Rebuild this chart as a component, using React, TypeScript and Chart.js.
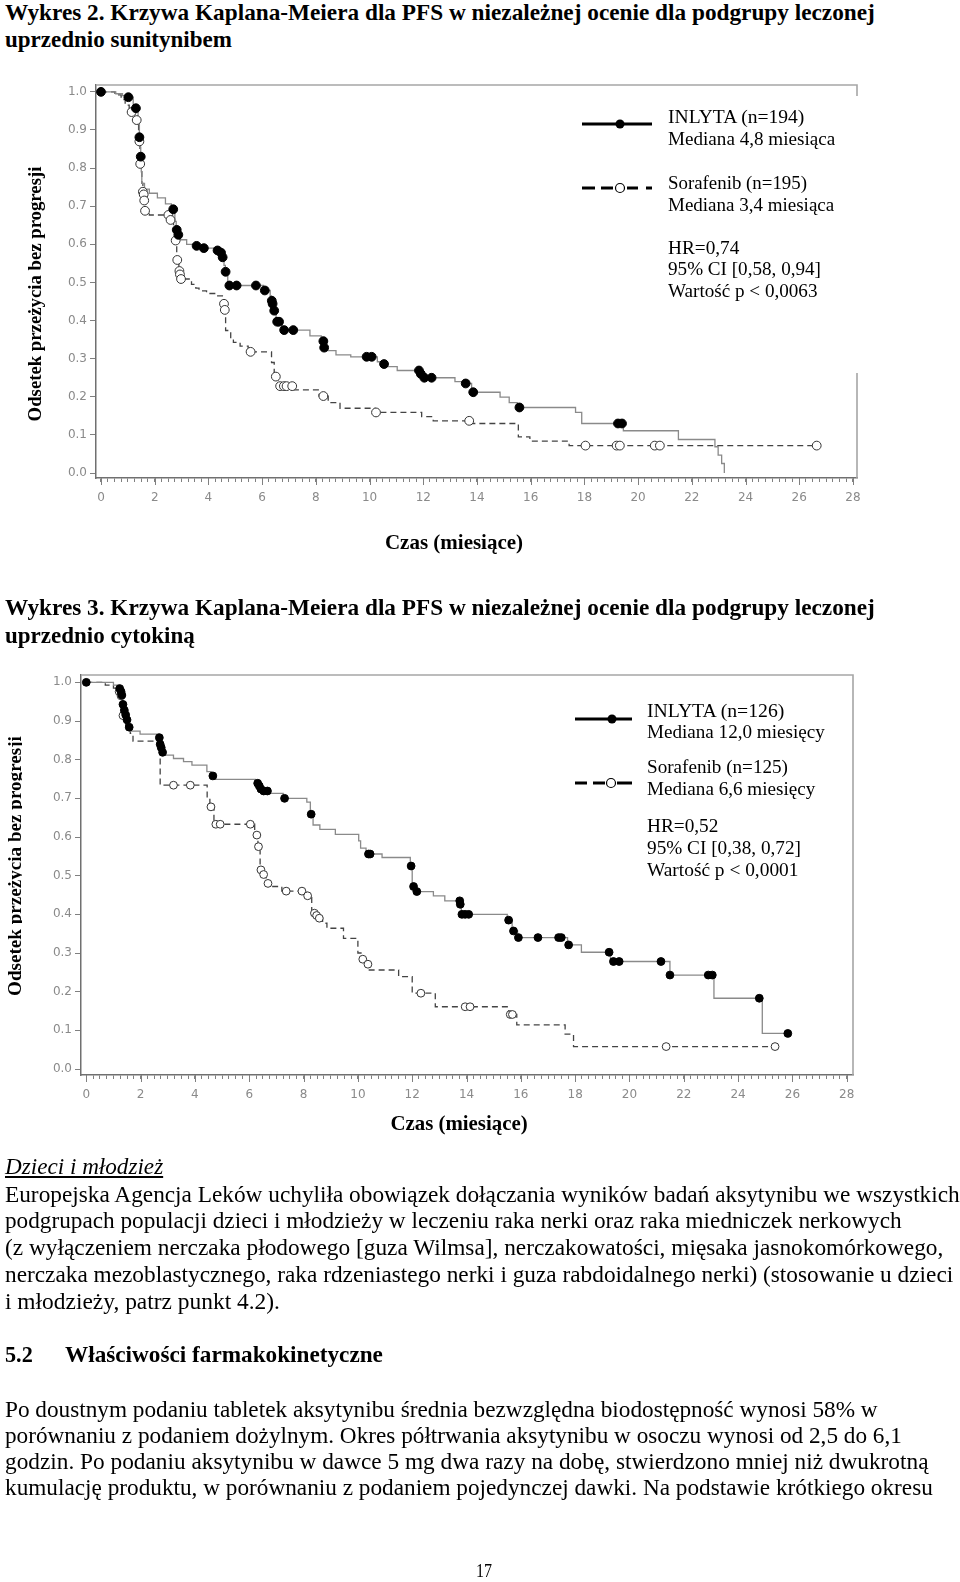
import React, { useEffect, useLayoutEffect, useRef } from 'react';
import { Chart, registerables } from 'chart.js';

Chart.register(...registerables);

// ---------- axis tick labels ----------
const xTickLabels = ['0', '2', '4', '6', '8', '10', '12', '14', '16', '18', '20', '22', '24', '26', '28'];
const yTickLabels = ['0.0', '0.1', '0.2', '0.3', '0.4', '0.5', '0.6', '0.7', '0.8', '0.9', '1.0'];
const xMinorTicks = Array.from({ length: 113 }, (_, i) => i * 0.25);

// ---------- Wykres 2 (sunitynib) ----------
const w2InlytaT = [0, 0.55, 0.8, 1.0, 1.2, 1.3, 1.38, 1.43, 1.46, 1.48, 1.5, 1.52, 1.62, 1.8, 2.1, 2.4, 2.62, 2.75, 2.8, 2.86, 2.95, 3.19, 3.5, 3.75, 4.25, 4.45, 4.52, 4.58, 4.63, 4.72, 6.05, 6.3, 6.35, 6.39, 6.44, 6.52, 6.75, 7.78, 8.2, 8.3, 8.4, 8.75, 9.3, 10.29, 10.45, 10.6, 11.03, 11.88, 12.0, 13.18, 13.5, 13.8, 14.86, 15.2, 15.5, 17.67, 17.9, 19.45, 21.5, 22.86, 22.98, 23.11, 23.21];
const w2InlytaS = [1.0, 0.995, 0.99, 0.986, 0.965, 0.957, 0.92, 0.881, 0.855, 0.83, 0.79, 0.76, 0.745, 0.734, 0.722, 0.706, 0.692, 0.66, 0.638, 0.625, 0.612, 0.6, 0.596, 0.59, 0.584, 0.578, 0.566, 0.545, 0.528, 0.492, 0.479, 0.465, 0.452, 0.444, 0.426, 0.397, 0.375, 0.36, 0.346, 0.329, 0.321, 0.31, 0.305, 0.292, 0.286, 0.279, 0.269, 0.26, 0.25, 0.24, 0.235, 0.212, 0.199, 0.185, 0.172, 0.159, 0.13, 0.111, 0.088, 0.069, 0.047, 0.025, 0.0];
const w2InlytaCensT = [0, 1.02, 1.3, 1.43, 1.48, 2.69, 2.82, 2.88, 3.56, 3.83, 4.34, 4.47, 4.53, 4.64, 4.78, 5.05, 5.77, 6.1, 6.36, 6.39, 6.45, 6.56, 6.63, 6.82, 7.16, 8.28, 8.31, 9.89, 10.08, 10.54, 11.84, 11.91, 12.04, 12.31, 13.58, 13.86, 15.58, 19.25, 19.4];
const w2InlytaCensS = [1.0, 0.986, 0.957, 0.881, 0.83, 0.692, 0.638, 0.625, 0.596, 0.59, 0.584, 0.578, 0.566, 0.528, 0.492, 0.492, 0.492, 0.479, 0.452, 0.444, 0.426, 0.397, 0.397, 0.375, 0.375, 0.346, 0.329, 0.305, 0.305, 0.286, 0.269, 0.26, 0.25, 0.25, 0.235, 0.212, 0.172, 0.13, 0.13];
const w2SoraT = [0, 0.52, 0.75, 0.9, 1.05, 1.14, 1.25, 1.33, 1.4, 1.45, 1.52, 1.56, 1.59, 1.61, 1.64, 1.8, 2.55, 2.7, 2.76, 2.82, 2.9, 2.93, 2.96, 3.37, 3.53, 3.65, 3.93, 4.31, 4.55, 4.6, 4.64, 4.83, 4.93, 5.18, 5.48, 6.35, 6.45, 6.6, 7.2, 8.12, 8.46, 8.9, 10.2, 11.94, 12.37, 13.75, 15.54, 15.97, 17.43, 26.65];
const w2SoraS = [1.0, 0.992, 0.98, 0.965, 0.955, 0.947, 0.935, 0.926, 0.87, 0.811, 0.76, 0.738, 0.731, 0.715, 0.688, 0.677, 0.664, 0.64, 0.61, 0.559, 0.53, 0.521, 0.509, 0.495, 0.485, 0.478, 0.471, 0.465, 0.444, 0.428, 0.374, 0.353, 0.343, 0.333, 0.318, 0.29, 0.253, 0.228, 0.218, 0.202, 0.185, 0.17, 0.159, 0.148, 0.137, 0.13, 0.095, 0.084, 0.072, 0.072];
const w2SoraCensT = [1.14, 1.33, 1.43, 1.46, 1.56, 1.59, 1.61, 1.64, 2.51, 2.59, 2.78, 2.84, 2.92, 2.94, 2.98, 4.58, 4.61, 5.57, 6.51, 6.67, 6.81, 6.91, 7.12, 8.28, 10.24, 13.71, 18.04, 19.2, 19.32, 20.62, 20.81, 26.65];
const w2SoraCensS = [0.947, 0.926, 0.87, 0.811, 0.738, 0.731, 0.715, 0.688, 0.677, 0.664, 0.61, 0.559, 0.53, 0.521, 0.509, 0.444, 0.428, 0.318, 0.253, 0.228, 0.228, 0.228, 0.228, 0.202, 0.159, 0.137, 0.072, 0.072, 0.072, 0.072, 0.072, 0.072];

// ---------- Wykres 3 (cytokina) ----------
const w3InlytaT = [0, 1.0, 1.18, 1.26, 1.3, 1.34, 1.38, 1.43, 1.48, 1.55, 1.62, 1.98, 2.66, 2.7, 2.74, 2.78, 2.85, 3.21, 3.58, 3.89, 4.44, 4.6, 4.72, 6.22, 6.35, 6.4, 6.48, 6.7, 7.25, 8.12, 8.25, 8.35, 8.6, 9.17, 10.03, 10.1, 10.3, 10.89, 11.93, 12.0, 12.12, 12.78, 13.2, 13.76, 13.81, 15.5, 15.68, 15.88, 17.72, 18.23, 19.3, 21.49, 23.11, 24.89, 25.83];
const w3InlytaS = [1.0, 0.993, 0.984, 0.976, 0.967, 0.943, 0.928, 0.916, 0.903, 0.884, 0.874, 0.866, 0.857, 0.84, 0.831, 0.819, 0.812, 0.803, 0.795, 0.786, 0.769, 0.758, 0.749, 0.739, 0.732, 0.724, 0.719, 0.713, 0.7, 0.69, 0.659, 0.631, 0.62, 0.607, 0.59, 0.571, 0.556, 0.547, 0.525, 0.472, 0.459, 0.448, 0.435, 0.426, 0.4, 0.385, 0.357, 0.34, 0.321, 0.302, 0.278, 0.243, 0.183, 0.092, 0.092];
const w3InlytaCensT = [0, 1.23, 1.28, 1.31, 1.35, 1.4, 1.45, 1.5, 1.58, 2.69, 2.72, 2.76, 2.81, 4.66, 6.31, 6.37, 6.43, 6.53, 6.67, 7.3, 8.28, 10.39, 10.45, 11.96, 12.05, 12.17, 13.75, 13.77, 13.83, 13.95, 14.08, 15.55, 15.73, 15.91, 16.63, 17.39, 17.49, 17.76, 19.25, 19.41, 19.62, 21.16, 21.49, 22.9, 23.05, 24.78, 25.83];
const w3InlytaCensS = [1.0, 0.984, 0.976, 0.967, 0.943, 0.928, 0.916, 0.903, 0.884, 0.857, 0.84, 0.831, 0.819, 0.758, 0.739, 0.732, 0.724, 0.719, 0.719, 0.7, 0.659, 0.556, 0.556, 0.525, 0.472, 0.459, 0.435, 0.426, 0.4, 0.4, 0.4, 0.385, 0.357, 0.34, 0.34, 0.34, 0.34, 0.321, 0.302, 0.278, 0.278, 0.278, 0.243, 0.243, 0.243, 0.183, 0.092];
const w3SoraT = [0, 0.7, 1.0, 1.18, 1.26, 1.33, 1.45, 1.62, 1.72, 2.72, 4.45, 4.55, 4.7, 6.2, 6.26, 6.32, 6.4, 6.5, 6.62, 6.72, 7.2, 8.12, 8.3, 8.45, 8.55, 8.7, 8.86, 9.47, 10.0, 10.15, 10.3, 10.42, 11.5, 12.0, 12.85, 15.55, 15.85, 17.63, 17.94, 25.36];
const w3SoraS = [1.0, 0.993, 0.985, 0.976, 0.965, 0.914, 0.888, 0.868, 0.848, 0.734, 0.7, 0.678, 0.633, 0.618, 0.605, 0.575, 0.515, 0.503, 0.48, 0.472, 0.46, 0.448, 0.403, 0.397, 0.39, 0.377, 0.364, 0.338, 0.3, 0.284, 0.271, 0.256, 0.239, 0.196, 0.161, 0.141, 0.114, 0.09, 0.058, 0.058];
const w3SoraCensT = [1.21, 1.28, 1.35, 3.21, 3.83, 4.59, 4.77, 4.93, 6.04, 6.28, 6.34, 6.43, 6.53, 6.69, 7.36, 7.94, 8.15, 8.4, 8.48, 8.58, 10.18, 10.37, 12.32, 13.95, 14.13, 15.61, 15.69, 21.35, 25.36];
const w3SoraCensS = [0.976, 0.965, 0.914, 0.734, 0.734, 0.678, 0.633, 0.633, 0.633, 0.605, 0.575, 0.515, 0.503, 0.48, 0.46, 0.46, 0.448, 0.403, 0.397, 0.39, 0.284, 0.271, 0.196, 0.161, 0.161, 0.141, 0.141, 0.058, 0.058];

const SERIF = '"Liberation Serif", "Times New Roman", Times, serif';
const tickFont = { family: '"DejaVu Sans", "Open Sans", sans-serif', size: 12 };

type KMSpec = {
  inT: number[]; inS: number[]; inCT: number[]; inCS: number[];
  soT: number[]; soS: number[]; soCT: number[]; soCS: number[];
  xMin: number; xMax: number; yMin: number; yMax: number;
  padTop: number; padRight: number; yWidth: number; xHeight: number; markR: number;
};

const spec1: KMSpec = {
  inT: w2InlytaT, inS: w2InlytaS, inCT: w2InlytaCensT, inCS: w2InlytaCensS,
  soT: w2SoraT, soS: w2SoraS, soCT: w2SoraCensT, soCS: w2SoraCensS,
  xMin: -0.186, xMax: 28.15, yMin: -0.013, yMax: 1.018,
  padTop: 15, padRight: 103, yWidth: 96, xHeight: 42, markR: 4.4,
};
const spec2: KMSpec = {
  inT: w3InlytaT, inS: w3InlytaS, inCT: w3InlytaCensT, inCS: w3InlytaCensS,
  soT: w3SoraT, soS: w3SoraS, soCT: w3SoraCensT, soCS: w3SoraCensS,
  xMin: -0.195, xMax: 28.23, yMin: -0.0155, yMax: 1.019,
  padTop: 15, padRight: 107, yWidth: 81, xHeight: 35, markR: 3.9,
};

const framePlugin = {
  id: 'kmFrame',
  beforeDatasetsDraw(chart: any) {
    const { ctx, chartArea: a } = chart;
    ctx.save();
    ctx.strokeStyle = '#a6a6a6';
    ctx.lineWidth = 1.6;
    ctx.beginPath();
    ctx.moveTo(a.left, a.top);
    ctx.lineTo(a.right, a.top);
    ctx.lineTo(a.right, a.bottom);
    ctx.stroke();
    ctx.restore();
  },
};

const majorTickPlugin = {
  id: 'majorTicks',
  afterDraw(chart: any) {
    const { ctx, chartArea: a } = chart;
    const x = chart.scales.x;
    ctx.save();
    ctx.strokeStyle = '#808080';
    ctx.lineWidth = 1;
    xTickLabels.forEach((l) => {
      const px = Math.round(x.getPixelForValue(Number(l))) + 0.5;
      ctx.beginPath();
      ctx.moveTo(px, a.bottom);
      ctx.lineTo(px, a.bottom + 7);
      ctx.stroke();
    });
    ctx.restore();
  },
};

function pts(xs: number[], ys: number[]) {
  return xs.map((x, i) => ({ x, y: ys[i] }));
}

function buildConfig(s: KMSpec): any {
  return {
    type: 'line',
    data: {
      datasets: [
        { label: 'INLYTA (cenzurowane)', data: pts(s.inCT, s.inCS), showLine: false, pointRadius: s.markR, pointBackgroundColor: '#000', pointBorderColor: '#000', pointBorderWidth: 1 },
        { label: 'Sorafenib (cenzurowane)', data: pts(s.soCT, s.soCS), showLine: false, pointRadius: s.markR, pointBackgroundColor: '#fff', pointBorderColor: '#333', pointBorderWidth: 1 },
        { label: 'INLYTA', data: pts(s.inT, s.inS), stepped: 'before', borderColor: '#8a8a8a', borderWidth: 1.3, pointRadius: 0, fill: false },
        { label: 'Sorafenib', data: pts(s.soT, s.soS), stepped: 'before', borderColor: '#444', borderWidth: 1.3, borderDash: [6, 4], pointRadius: 0, fill: false },
      ],
    },
    options: {
      responsive: false,
      animation: false,
      events: [],
      layout: { padding: { left: 0, top: s.padTop, right: s.padRight, bottom: 0 } },
      plugins: { legend: { display: false }, tooltip: { enabled: false } },
      scales: {
        x: {
          type: 'linear', min: s.xMin, max: s.xMax,
          afterFit: (sc: any) => { sc.height = s.xHeight; },
          afterBuildTicks: (sc: any) => { sc.ticks = xMinorTicks.map((v) => ({ value: v })); },
          ticks: {
            autoSkip: false, maxRotation: 0, minRotation: 0, padding: 9, color: '#8a8a8a', font: tickFont,
            callback: (v: any) => (xTickLabels.includes(String(v)) ? String(v) : ''),
          },
          grid: { drawOnChartArea: false, drawTicks: true, tickLength: 4, tickColor: '#808080', color: '#808080' },
          border: { display: true, color: '#707070', width: 1.5 },
        },
        y: {
          type: 'linear', min: s.yMin, max: s.yMax,
          afterFit: (sc: any) => { sc.width = s.yWidth; },
          afterBuildTicks: (sc: any) => { sc.ticks = yTickLabels.map((l) => ({ value: Number(l) })); },
          ticks: { padding: 3, color: '#8a8a8a', font: tickFont, callback: (v: any) => Number(v).toFixed(1) },
          grid: { drawOnChartArea: false, drawTicks: true, tickLength: 6, tickColor: '#808080', color: '#808080' },
          border: { display: true, color: '#707070', width: 1.5 },
        },
      },
    },
    plugins: [framePlugin, majorTickPlugin],
  };
}

function KMChart({ spec, top, height }: { spec: KMSpec; top: number; height: number }) {
  const ref = useRef<HTMLCanvasElement>(null);
  useEffect(() => {
    if (!ref.current) return;
    const chart = new Chart(ref.current, buildConfig(spec));
    return () => chart.destroy();
  }, [spec]);
  return (
    <canvas ref={ref} width={960} height={height}
      style={{ position: 'absolute', left: 0, top, width: 960, height, display: 'block' }} />
  );
}

type TProps = {
  text: string; x: number; cy: number; w?: number; size: number;
  bold?: boolean; italic?: boolean; underline?: boolean; center?: boolean; rotate?: boolean;
};

function T({ text, x, cy, w, size, bold, italic, underline, center, rotate }: TProps) {
  const ref = useRef<HTMLDivElement>(null);
  useLayoutEffect(() => {
    const el = ref.current;
    if (!el) return;
    const nat = el.offsetWidth;
    const s = w && nat ? w / nat : 1;
    if (rotate) el.style.transform = `translate(-50%, -50%) rotate(-90deg) scaleX(${s})`;
    else if (center) el.style.transform = `translate(-50%, 0) scaleX(${s})`;
    else el.style.transform = `scaleX(${s})`;
  }, [text, w, size, center, rotate]);
  const lh = Math.round(size * 1.2);
  return (
    <div ref={ref} style={{
      position: 'absolute', left: x, top: rotate ? cy : cy - lh / 2,
      fontFamily: SERIF, fontSize: size, lineHeight: `${lh}px`,
      fontWeight: bold ? 700 : 400, fontStyle: italic ? 'italic' : 'normal',
      textDecoration: underline ? 'underline' : 'none',
      whiteSpace: 'nowrap', color: '#000',
      transformOrigin: rotate || center ? '50% 50%' : '0 0',
    }}>{text}</div>
  );
}

export default function App() {
  return (
    <div style={{ position: 'absolute', left: 0, top: 0, width: 960, height: 1582, background: '#fff', overflow: 'hidden' }}>
      <T text="Wykres 2. Krzywa Kaplana-Meiera dla PFS w niezależnej ocenie dla podgrupy leczonej" x={5} cy={13} w={870} size={23} bold />
      <T text="uprzednio sunitynibem" x={5} cy={40} w={227} size={23} bold />

      <KMChart spec={spec1} top={70} height={450} />

      <KMChart spec={spec2} top={660} height={450} />

      <svg width={960} height={1582} style={{ position: 'absolute', left: 0, top: 0 }}>
        {/* legend box of Wykres 2 covers the frame */}
        <rect x={570} y={96} width={300} height={277} fill="#fff" />
        <line x1={582} y1={124} x2={652} y2={124} stroke="#000" strokeWidth={3} />
        <circle cx={620} cy={124} r={4.5} fill="#000" />
        <line x1={582} y1={188} x2={595} y2={188} stroke="#000" strokeWidth={3} />
        <line x1={601} y1={188} x2={613} y2={188} stroke="#000" strokeWidth={3} />
        <line x1={627} y1={188} x2={638} y2={188} stroke="#000" strokeWidth={3} />
        <line x1={646} y1={188} x2={652} y2={188} stroke="#000" strokeWidth={3} />
        <circle cx={620} cy={188} r={4.5} fill="#fff" stroke="#000" strokeWidth={1.2} />

        {/* legend of Wykres 3 */}
        <line x1={575} y1={719} x2={632} y2={719} stroke="#000" strokeWidth={3} />
        <circle cx={612} cy={719} r={4.5} fill="#000" />
        <line x1={575} y1={783} x2={587} y2={783} stroke="#000" strokeWidth={3} />
        <line x1={593} y1={783} x2={605} y2={783} stroke="#000" strokeWidth={3} />
        <line x1={617} y1={783} x2={632} y2={783} stroke="#000" strokeWidth={3} />
        <circle cx={611} cy={783} r={4.5} fill="#fff" stroke="#000" strokeWidth={1.2} />
      </svg>

      <T text="Odsetek przeżycia bez progresji" x={35} cy={294} w={255} size={18} bold rotate />

      <T text="INLYTA (n=194)" x={668} cy={116} w={136} size={19} />
      <T text="Mediana 4,8 miesiąca" x={668} cy={138} w={167} size={19} />
      <T text="Sorafenib (n=195)" x={668} cy={182} w={139} size={19} />
      <T text="Mediana 3,4 miesiąca" x={668} cy={204} w={166} size={19} />
      <T text="HR=0,74" x={668} cy={247} w={71} size={19} />
      <T text="95% CI [0,58, 0,94]" x={668} cy={268} w={153} size={19} />
      <T text="Wartość p < 0,0063" x={668} cy={290} w={150} size={19} />

      <T text="Czas (miesiące)" x={454} cy={542} w={138} size={21} bold center />

      <T text="Wykres 3. Krzywa Kaplana-Meiera dla PFS w niezależnej ocenie dla podgrupy leczonej" x={5} cy={608} w={870} size={23} bold />
      <T text="uprzednio cytokiną" x={5} cy={636} w={190} size={23} bold />

      <div style={{ position: 'absolute', left: 0, top: 700, width: 22, height: 330, overflow: 'hidden' }}>
        <T text="Odsetek przeżycia bez progresji" x={14.5} cy={166} w={260} size={18} bold rotate />
      </div>

      <T text="INLYTA (n=126)" x={647} cy={710} w={137} size={19} />
      <T text="Mediana 12,0 miesięcy" x={647} cy={731} w={178} size={19} />
      <T text="Sorafenib (n=125)" x={647} cy={766} w={141} size={19} />
      <T text="Mediana 6,6 miesięcy" x={647} cy={788} w={168} size={19} />
      <T text="HR=0,52" x={647} cy={825} w={71} size={19} />
      <T text="95% CI [0,38, 0,72]" x={647} cy={847} w={154} size={19} />
      <T text="Wartość p < 0,0001" x={647} cy={869} w={152} size={19} />

      <T text="Czas (miesiące)" x={459} cy={1123} w={137} size={21} bold center />

      <T text="Dzieci i młodzież" x={5} cy={1167} w={158} size={23} italic underline />
      <T text="Europejska Agencja Leków uchyliła obowiązek dołączania wyników badań aksytynibu we wszystkich" x={5} cy={1195} w={955} size={23} />
      <T text="podgrupach populacji dzieci i młodzieży w leczeniu raka nerki oraz raka miedniczek nerkowych" x={5} cy={1221} w={897} size={23} />
      <T text="(z wyłączeniem nerczaka płodowego [guza Wilmsa], nerczakowatości, mięsaka jasnokomórkowego," x={5} cy={1248} w={938} size={23} />
      <T text="nerczaka mezoblastycznego, raka rdzeniastego nerki i guza rabdoidalnego nerki) (stosowanie u dzieci" x={5} cy={1275} w={948} size={23} />
      <T text="i młodzieży, patrz punkt 4.2)." x={5} cy={1302} w={275} size={23} />

      <T text="5.2" x={5} cy={1355} w={28} size={23} bold />
      <T text="Właściwości farmakokinetyczne" x={65} cy={1355} w={318} size={23} bold />

      <T text="Po doustnym podaniu tabletek aksytynibu średnia bezwzględna biodostępność wynosi 58% w" x={5} cy={1410} w={873} size={23} />
      <T text="porównaniu z podaniem dożylnym. Okres półtrwania aksytynibu w osoczu wynosi od 2,5 do 6,1" x={5} cy={1436} w={897} size={23} />
      <T text="godzin. Po podaniu aksytynibu w dawce 5 mg dwa razy na dobę, stwierdzono mniej niż dwukrotną" x={5} cy={1462} w={924} size={23} />
      <T text="kumulację produktu, w porównaniu z podaniem pojedynczej dawki. Na podstawie krótkiego okresu" x={5} cy={1488} w={928} size={23} />

      <T text="17" x={484} cy={1571} w={16} size={18} center />
    </div>
  );
}
